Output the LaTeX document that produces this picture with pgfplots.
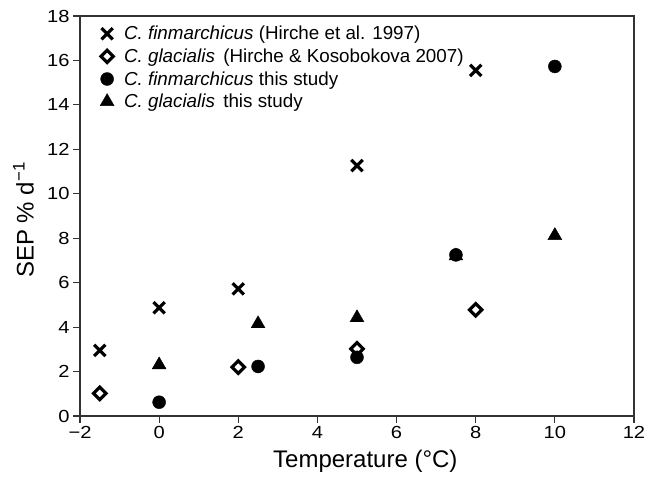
\documentclass[border=0pt]{standalone}
\usepackage{fontspec}
\setmainfont{Liberation Sans}
\newfontfamily\tickfont[FakeStretch=1.15]{Liberation Sans}
\usepackage{pgfplots}
\pgfplotsset{compat=1.18}

\begin{document}
\begin{tikzpicture}
\begin{axis}[
    scale only axis,
    width=554pt, height=400pt,
    xmin=-2, xmax=12, ymin=0, ymax=18,
    xtick={-2,0,2,4,6,8,10,12},
    xticklabels={−2,0,2,4,6,8,10,12},
    ytick={0,2,...,18},
    /pgf/number format/assume math mode=true,
    tick label style={font=\tickfont\fontsize{17.5}{20}\selectfont},
    xtick pos=left, ytick pos=left,
    tick align=outside,
    major tick length=7pt,
    axis line style={line width=1.2pt, black!80},
    every tick/.style={line width=1.2pt, black!80},
    xlabel={Temperature (°C)},
    ylabel={SEP \% d\textsuperscript{−1}},
    label style={font=\fontsize{24}{28}\selectfont},
    xlabel style={at={(axis description cs:0.515,0)}, anchor=north, yshift=-31pt},
    ylabel style={at={(axis description cs:-0.102,0.49)}, anchor=center, rotate=0},
    legend style={draw=none, fill=none, at={(axis description cs:0,1)}, anchor=north west,
        xshift=17pt, yshift=-6pt, font=\fontsize{18.8}{22.5}\selectfont, row sep=3.5pt,
        /tikz/every odd column/.append style={column sep=8pt}},
    legend cell align=left,
    clip=false,
]
\addplot[only marks, mark=x, mark size=8pt, line width=3.2pt, black]
coordinates {(-1.5,2.95) (0,4.87) (2,5.72) (5,11.27) (8,15.55)};
\addlegendentry{\textit{C. finmarchicus} (Hirche et al. 1997)}

\addplot[only marks, mark=square*, mark options={rotate=45, fill=white, line width=3.2pt}, mark size=4.4pt, black]
coordinates {(-1.5,1.02) (2,2.2) (5,3.02) (8,4.78)};
\addlegendentry{\textit{C. glacialis}\, (Hirche \& Kosobokova 2007)}

\addplot[only marks, mark=*, mark size=6.5pt, black, line width=0.4pt]
coordinates {(0,0.62) (2.5,2.23) (5,2.64) (7.5,7.25) (10,15.73)};
\addlegendentry{\textit{C. finmarchicus} this study}

\addplot[only marks, mark=triangle*, mark size=8pt, black, line width=0.4pt]
coordinates {(0,2.3) (2.5,4.15) (5,4.42) (7.5,7.2) (10,8.12)};
\addlegendentry{\textit{C. glacialis}\, this study}
\end{axis}
\pgfresetboundingbox
\path ([shift={(-80pt,-65pt)}]current axis.south west) rectangle ([shift={(20pt,16pt)}]current axis.north east);
\end{tikzpicture}
\end{document}
